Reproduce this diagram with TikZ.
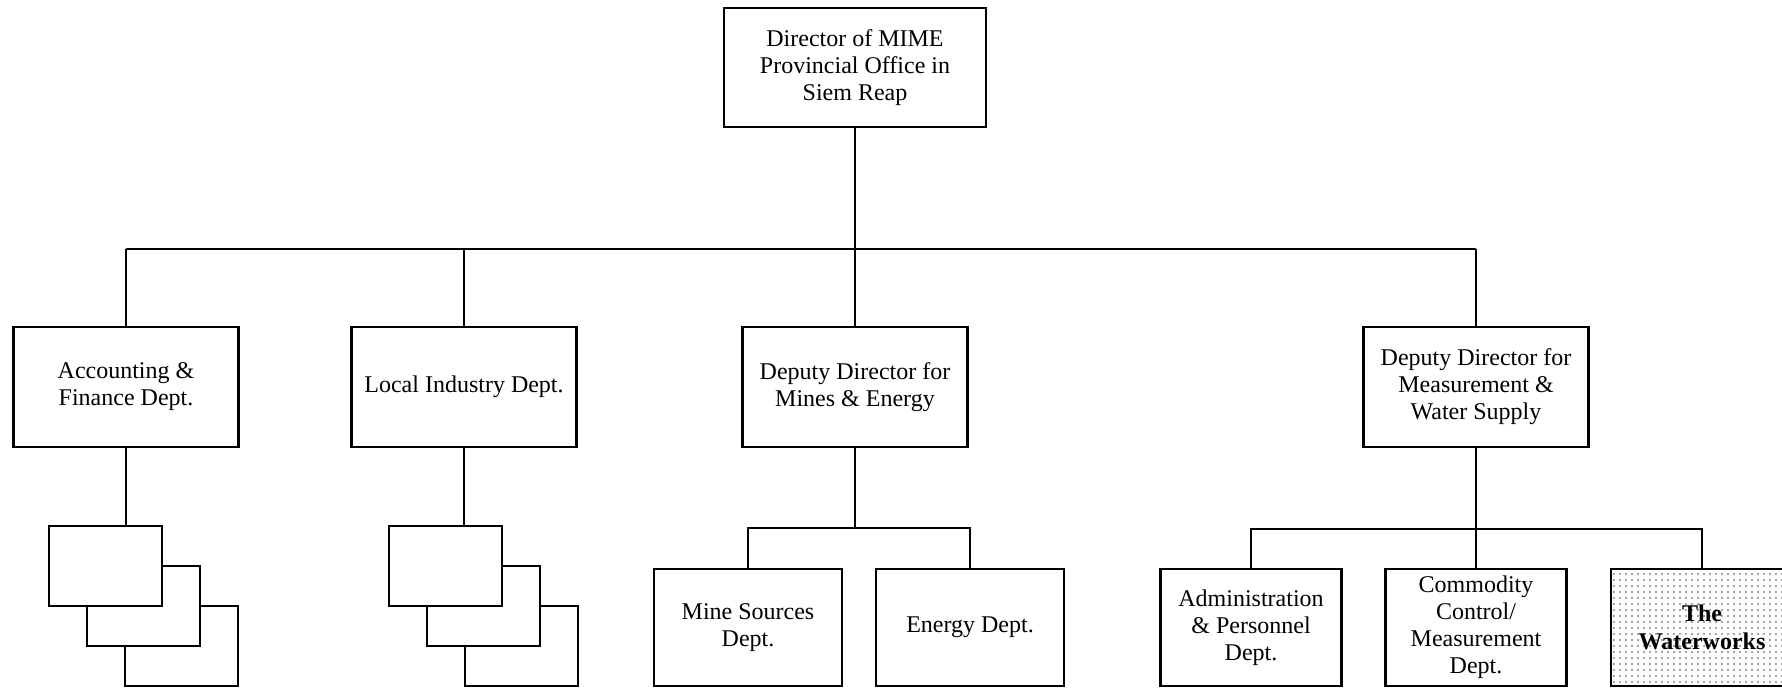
\documentclass[tikz,border=0pt]{standalone}
\usepackage{fontspec}
\setmainfont{Liberation Serif}
\usetikzlibrary{patterns}
\pgfdeclarepatternformonly{sparsedots}{\pgfpoint{-1pt}{-1pt}}{\pgfpoint{1pt}{1pt}}{\pgfpoint{6pt}{6pt}}{%
  \pgfpathcircle{\pgfpoint{0pt}{0pt}}{0.8pt}\pgfusepath{fill}}
\tikzset{
  box/.style={draw=black, line width=2.1pt, fill=white, inner sep=0pt, align=center,
    font=\fontsize{24}{27}\selectfont},
  lvltwo/.style={box, minimum width=225pt, minimum height=120pt},
  lvlthree/.style={box, minimum width=181pt, minimum height=117pt},
  stackbox/.style={draw=black, line width=2.1pt, fill=white, minimum width=113pt, minimum height=80pt, inner sep=0pt},
  link/.style={draw=black, line width=2.1pt}
}
\begin{document}
\begin{tikzpicture}[x=1pt,y=-1pt]
\clip (0,0) rectangle (1782,688);
\fill[white] (0,0) rectangle (1782,688);

% top
\node[box, minimum width=262pt, minimum height=119pt] (top) at (855,67.5)
  {Director of MIME\\Provincial Office in\\Siem Reap};

% level two
\node[lvltwo] (acc) at (126,387) {Accounting \&\\Finance Dept.};
\node[lvltwo] (loc) at (464,387) {Local Industry Dept.};
\node[lvltwo] (dmine) at (855,387) {Deputy Director for\\Mines \& Energy};
\node[lvltwo] (dmeas) at (1476,387) {Deputy Director for\\Measurement \&\\Water Supply};

\coordinate (busL) at (126,249);
\coordinate (busR) at (1476,249);
\draw[link] (busL) -- (busR);
\draw[link] (top.south) -- (top.south |- busL);
\draw[link] (acc.north) -- (acc.north |- busL);
\draw[link] (loc.north) -- (loc.north |- busL);
\draw[link] (dmine.north) -- (dmine.north |- busL);
\draw[link] (dmeas.north) -- (dmeas.north |- busL);

% stacks
\node[stackbox] (s1c) at (181.5,646) {};
\node[stackbox] (s1b) at (143.5,606) {};
\node[stackbox] (s1a) at (105.5,566) {};
\node[stackbox] (s2c) at (521.5,646) {};
\node[stackbox] (s2b) at (483.5,606) {};
\node[stackbox] (s2a) at (445.5,566) {};
\draw[link] (acc.south) -- (acc.south |- s1a.north);
\draw[link] (loc.south) -- (loc.south |- s2a.north);

% mines & energy
\node[lvlthree, minimum width=188pt] (mine) at (748,627.5) {Mine Sources\\Dept.};
\node[lvlthree, minimum width=188pt] (energy) at (970,627.5) {Energy Dept.};
\coordinate (mbus) at (855,528);
\draw[link] (dmine.south) -- (mbus);
\draw[link] (mine.north) |- (mbus) -| (energy.north);

% measurement & water
\node[lvlthree] (admin) at (1251,627.5) {Administration\\\& Personnel\\Dept.};
\node[lvlthree] (comm) at (1476,627.5) {Commodity\\Control/\\Measurement\\Dept.};
\node[lvlthree, pattern=sparsedots, pattern color=black!70, minimum width=182pt,
  font=\fontsize{24}{28}\selectfont\bfseries] (water) at (1702,627.5) {The\\Waterworks};
\draw[link] (dmeas.south) -- (comm.north);
\draw[link] (admin.north) |- (comm.north |- 0,529) -| (water.north);
\end{tikzpicture}
\end{document}
